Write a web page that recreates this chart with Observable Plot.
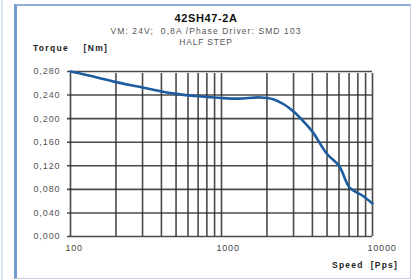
<!DOCTYPE html>
<html><head><meta charset="utf-8">
<script src="https://cdn.jsdelivr.net/npm/d3@7"></script>
<script src="https://cdn.jsdelivr.net/npm/@observablehq/plot@0.6"></script>
<style>
html,body{margin:0;padding:0;background:#fff;}
#wrap{position:relative;width:412px;height:280px;overflow:hidden;font-family:"Liberation Sans",Arial,sans-serif;}
#frame{position:absolute;left:14px;top:4px;width:397px;height:275px;border:1px solid #c2d0e0;border-left:3px solid #6f9ccc;border-top:2px solid #8fb0d6;box-sizing:border-box;}
#edge{position:absolute;left:1px;top:0;width:2px;height:280px;background:#dce6f2;}
.t{position:absolute;white-space:nowrap;}
#plot{position:absolute;left:0;top:0;}
#plot svg g[aria-label="y-axis tick label"] text{letter-spacing:0.9px;}
#plot svg g[aria-label="x-axis tick label"] text{letter-spacing:0.8px;}
</style></head>
<body><div id="wrap">
<div id="edge"></div>
<div id="frame"></div>
<div id="plot"></div>
<div class="t" style="left:0;width:412px;text-align:center;top:12px;font-size:11px;font-weight:bold;color:#111;letter-spacing:0.6px;">42SH47-2A</div>
<div class="t" style="left:0;width:412px;text-align:center;top:26px;font-size:8.5px;color:#555;letter-spacing:1.1px;">VM: 24V;&nbsp; 0,8A /Phase Driver: SMD 103</div>
<div class="t" style="left:0;width:412px;text-align:center;top:37px;font-size:8.5px;color:#555;letter-spacing:0.8px;">HALF STEP</div>
<div class="t" style="left:33px;top:43px;font-size:8.5px;font-weight:bold;color:#222;letter-spacing:1.3px;">Torque&nbsp;&nbsp;&nbsp; [Nm]</div>
<div class="t" style="right:14px;top:260px;font-size:8.5px;font-weight:bold;color:#222;letter-spacing:1.2px;">Speed&nbsp; [Pps]</div>
</div>
<script>
const speed  = [100, 150, 200, 300, 400, 500, 700, 1000, 1300, 1800, 2200, 2600, 3000, 3500, 4000, 5000, 6000, 7000, 7700, 8500, 10000];
const torque = [0.280, 0.270, 0.262, 0.253, 0.246, 0.242, 0.238, 0.235, 0.234, 0.236, 0.233, 0.224, 0.212, 0.195, 0.178, 0.140, 0.120, 0.084, 0.076, 0.070, 0.056];
const xGrid = [100,200,300,400,500,600,700,800,900,1000,2000,3000,4000,5000,6000,7000,8000,9000,10000];
const yGrid = [0, 0.04, 0.08, 0.12, 0.16, 0.20, 0.24, 0.28];
const xLabels = [100, 1000, 10000];

const data = speed.map((s, i) => ({s, t: torque[i]}));
const fmt = d => d3.format(".3f")(d).replace(".", ",");

const chart = Plot.plot({
  width: 412, height: 280,
  marginLeft: 70, marginRight: 40, marginTop: 71, marginBottom: 44,
  style: {background: "transparent", fontFamily: "Liberation Sans, Arial, sans-serif"},
  x: {type: "log", domain: [100, 10000]},
  y: {domain: [0, 0.28]},
  marks: [
    Plot.ruleX(xGrid, {x: d => d, y1: 0, y2: 0.28, stroke: "#2a2a2a", strokeOpacity: 0.85, strokeWidth: 1.6, insetBottom: -2}),
    Plot.ruleY(yGrid, {y: d => d, x1: 100, x2: 10000, stroke: "#2a2a2a", strokeOpacity: 0.85, strokeWidth: 1.6, insetLeft: -3}),
    Plot.axisY({ticks: yGrid, tickFormat: fmt, tickSize: 0, tickPadding: 10, fontSize: 9, fill: "#555", label: null}),
    Plot.axisX({ticks: xLabels, tickFormat: d => String(d), tickSize: 0, tickPadding: 8, fontSize: 9, fill: "#444", textAnchor: "start", dx: -5, label: null}),
    Plot.line(data, {x: "s", y: "t", stroke: "#1d5c9e", strokeWidth: 2.6, curve: "catmull-rom"})
  ]
});
document.getElementById("plot").appendChild(chart);
</script>
</body></html>
